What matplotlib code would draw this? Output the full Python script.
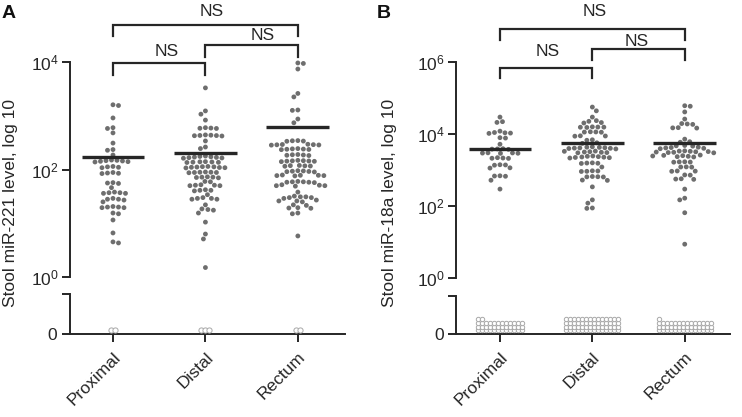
import numpy as np
import matplotlib
matplotlib.use('Agg')
import matplotlib.pyplot as plt
from matplotlib import transforms

plt.rcParams['font.family'] = ['Liberation Sans', 'DejaVu Sans']

groups = ['Proximal', 'Distal', 'Rectum']

# panel A: stool miR-221 (non-zero samples)
a_prox = [1600, 1550, 910, 600, 580, 480, 310, 235, 228, 186,
          150, 148, 146, 144, 142, 140, 138, 114, 112, 110, 108,
          88, 86, 85, 84, 57, 56, 55, 46, 38, 37, 37, 36, 36,
          29, 28, 28, 27, 25, 20.5, 20, 20, 19.5, 19.5, 15.5, 15,
          11.5, 6.6, 4.5, 4.3]
a_dist = [3300, 1230, 1070, 830, 600, 590, 585, 580, 440, 435, 430, 428,
          425, 420, 340, 262, 245, 178, 175, 172, 170, 168, 166, 164, 162,
          140, 139, 138, 137, 136, 135, 114, 113, 112, 111, 110, 109, 108,
          107, 90, 89, 89, 88, 88, 87, 73, 72, 72, 71, 70, 60, 59,
          52, 51, 51, 50, 50, 42, 41, 41, 40, 34, 30, 29, 29, 28, 28,
          22, 18.5, 18, 17.5, 15.5, 10.5, 6.3, 5.1, 1.5]
a_rect = [9600, 9400, 7400, 2600, 2240, 1280, 1260, 870, 740,
          345, 342, 338, 335, 295, 292, 290, 288, 286, 284,
          245, 242, 240, 238, 236, 234, 190, 188, 186, 184, 182,
          148, 146, 145, 144, 143, 142, 140, 119, 118, 117, 116, 115,
          95, 94, 93, 92, 91, 90, 79, 78, 78, 77, 77, 76,
          60, 59, 59, 58, 58, 57, 52, 51, 50, 50, 49, 38,
          32, 31, 31, 30, 30, 29, 27, 26, 26, 25, 22, 21.5,
          19.5, 19.2, 19, 15.5, 15, 5.8]
a_medians = [170, 205, 620]
a_zeros = [2, 3, 2]

# panel B: stool miR-18a (non-zero samples)
b_prox = [29500, 22000, 21000, 12000, 11000, 10800, 10600, 10400,
          7900, 7700, 5200, 3900, 3850, 3800, 3750, 3000, 2980, 2950,
          2920, 2900, 2200, 2150, 2120, 2100, 1400, 1380, 1360,
          1150, 1130, 690, 680, 670, 520, 295]
b_dist = [56000, 44000, 29500, 23500, 22500, 20800, 20200,
          15800, 15600, 15500, 15400, 15200, 11500, 11400, 11300, 11200,
          8900, 8800, 8700, 6900, 6700, 5700, 5500,
          4400, 4300, 4250, 4150, 4100, 4050, 4000, 3950, 3850,
          3350, 3300, 3220, 3160, 3100, 3050, 3000,
          2450, 2400, 2350, 2300, 2270, 2230, 2200, 2150,
          1580, 1560, 1540, 1520, 1210, 950, 940, 920, 910,
          660, 650, 645, 640, 525, 515, 340, 148, 120, 88, 86]
b_rect = [61000, 59000, 41000, 26000, 19500, 19000, 18500,
          15000, 14800, 14600, 7200, 6100, 5900, 4800, 4700, 4600,
          4300, 4200, 4100, 4000, 3900, 3400, 3350, 3300, 3250, 3200,
          3150, 3100, 3050, 3000, 2600, 2550, 2500, 2450, 2400, 2350, 2300,
          1690, 1680, 1660, 1650, 1220, 1210, 1200, 940, 930, 920,
          730, 720, 570, 560, 550, 295, 165, 148, 65, 8.7]
b_medians = [3800, 5600, 5700]
b_zeros = [38, 56, 43]

W, H = 742, 417
fig = plt.figure(figsize=(W / 100, H / 100), dpi=100)

INK = '#262626'
DOT = '#6e6e6e'


def px_box(left, right, top, bottom):
    return [left / W, 1 - bottom / H, (right - left) / W, (bottom - top) / H]


def swarm_x(ax, x0, vals, d=5.2, step=0.5):
    # simple beeswarm in screen pixels, top to bottom
    pts = ax.transData.transform(np.column_stack([np.full(len(vals), x0), vals]))
    order = np.argsort(-pts[:, 1])
    xs = pts[:, 0].copy()
    placed = []
    for n, i in enumerate(order):
        cx, cy = pts[i]
        near = [(qx, qy) for qx, qy in placed if abs(qy - cy) < d]
        best = None
        k = 0
        while best is None:
            cands = [0.0] if k == 0 else ([k * step, -k * step] if n % 2 else [-k * step, k * step])
            for o in cands:
                if all((cx + o - qx) ** 2 + (cy - qy) ** 2 >= d * d for qx, qy in near):
                    best = o
                    break
            k += 1
        xs[i] = cx + best
        placed.append((xs[i], cy))
    return ax.transData.inverted().transform(np.column_stack([xs, pts[:, 1]]))[:, 0]


def zero_grid(ax, x0, n, ncol, pitch_x=4.0, pitch_y=3.8, base=3.6):
    p0 = ax.transData.transform([(x0, 0)])[0]
    xs, ys = [], []
    full = n // ncol
    rest = n - full * ncol
    for r in range(full):
        for c in range(ncol):
            xs.append(p0[0] + (c - (ncol - 1) / 2) * pitch_x)
            ys.append(p0[1] + base + r * pitch_y)
    for c in range(rest):
        xs.append(p0[0] + (c - (ncol - 1) / 2) * pitch_x)
        ys.append(p0[1] + base + full * pitch_y)
    return ax.transData.inverted().transform(np.column_stack([xs, ys]))


def bracket(ax, x1, x2, ytop, yleg, ytxt, dx):
    tr = transforms.blended_transform_factory(ax.transData, fig.transFigure)
    f = lambda y: 1 - y / H
    ax.plot([x1, x1, x2, x2], [f(yleg), f(ytop), f(ytop), f(yleg)], color=INK,
            lw=1.6, transform=tr, clip_on=False, solid_joinstyle='miter')
    ax.text((x1 + x2) / 2 + dx, f(ytxt), 'NS', transform=tr, ha='center',
            va='center', fontsize=12.5, color=INK)


def panel(left, right, top, y0px, breakpx, zeropx, xlim, ylim, yticks,
          data, medians, zeros, zero_cols, zero_size, ylabel, ylab_x, letter,
          letter_x, brackets):
    ax = fig.add_axes(px_box(left, right, top, y0px))
    ax.set_yscale('log')
    ax.set_xlim(xlim)
    ax.set_ylim(ylim)
    ax.set_yticks(yticks)
    ax.minorticks_off()
    ax.set_xticks([])
    for s in ['top', 'right', 'bottom']:
        ax.spines[s].set_visible(False)
    ax.spines['left'].set_linewidth(1.4)
    ax.spines['left'].set_color(INK)
    ax.tick_params(axis='y', length=6, width=1.4, color=INK, labelsize=12.5,
                   labelcolor=INK, pad=2)
    ax.patch.set_alpha(0)

    for i, vals in enumerate(data):
        xs = swarm_x(ax, i, vals)
        ax.scatter(xs, vals, s=12, color=DOT, edgecolors='none', clip_on=False, zorder=3)
        ax.hlines(medians[i], i - 0.34, i + 0.34, color=INK, lw=2.4, zorder=4)

    bx = fig.add_axes(px_box(left, right, breakpx, zeropx))
    bx.set_xlim(xlim)
    bx.set_ylim(0, 1)
    bx.set_yticks([0, 1])
    bx.set_yticklabels(['0', ''])
    bx.set_xticks([0, 1, 2])
    bx.set_xticklabels(groups, rotation=45, ha='right', va='top',
                       rotation_mode='anchor', fontsize=12.5, color=INK)
    for s in ['top', 'right']:
        bx.spines[s].set_visible(False)
    for s in ['left', 'bottom']:
        bx.spines[s].set_linewidth(1.4)
        bx.spines[s].set_color(INK)
    bx.tick_params(length=6, width=1.4, color=INK, labelsize=12.5,
                   labelcolor=INK, pad=3)
    bx.tick_params(axis='x', pad=5)
    bx.patch.set_alpha(0)
    for i in range(3):
        zp = zero_grid(bx, i, zeros[i], zero_cols[i])
        bx.scatter(zp[:, 0], zp[:, 1], s=zero_size, facecolors='white',
                   edgecolors='#a8a8a8', linewidths=0.7, clip_on=False, zorder=3)

    fig.text(ylab_x / W, 1 - 203 / H, ylabel, rotation=90, ha='center',
             va='center', fontsize=12.5, color=INK)
    fig.text(letter_x / W, 1 - 14 / H, letter, ha='left', va='center',
             fontsize=14, fontweight='bold', color='#111111')
    for b in brackets:
        bracket(ax, *b)
    return ax


panel(70, 345, 62, 277, 294, 334, (-0.465, 2.51), (1, 1e4), [1, 1e2, 1e4],
      [a_prox, a_dist, a_rect], a_medians, a_zeros, [2, 3, 2], 14,
      'Stool miR-221 level, log 10', 11, 'A', 2,
      [(0, 2, 25, 36, 12, 0.07), (1, 2, 45, 57, 35, 0.12), (0, 1, 63, 75, 52, 0.08)])

panel(456, 730, 62, 278, 296, 334, (-0.476, 2.49), (1, 1e6), [1, 1e2, 1e4, 1e6],
      [b_prox, b_dist, b_rect], b_medians, b_zeros, [12, 14, 14], 10,
      'Stool miR-18a level, log 10', 390, 'B', 377,
      [(0, 2, 29, 40, 12, 0.03), (1, 2, 49, 60, 41, -0.02), (0, 1, 68, 78, 52, 0.02)])

fig.savefig('out.png', dpi=100)
